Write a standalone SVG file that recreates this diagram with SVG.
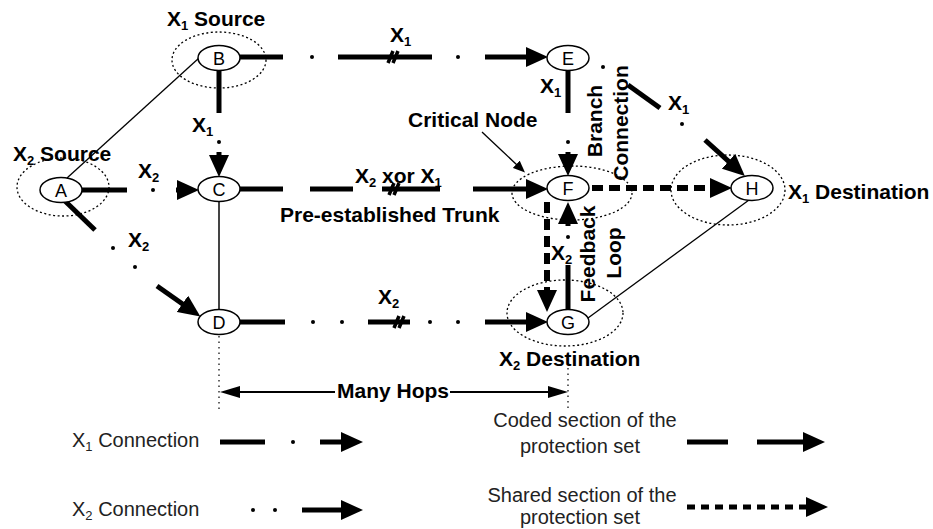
<svg xmlns="http://www.w3.org/2000/svg" width="933" height="529" viewBox="0 0 933 529">
<defs>
<style>
.n{fill:#fff;stroke:#000;stroke-width:1.5}
.grp{fill:none;stroke:#000;stroke-width:1.3;stroke-dasharray:2 2.5}
.nl{font-family:"Liberation Sans",Arial,sans-serif;font-size:18px;text-anchor:middle;fill:#000}
.lb{font-family:"Liberation Sans",Arial,sans-serif;font-size:21px;font-weight:bold;fill:#000}
.sub{font-size:13px}
.lg{font-family:"Liberation Sans",Arial,sans-serif;font-size:20px;fill:#222}
.th{stroke:#000;stroke-width:5;fill:none}
.sh{stroke:#000;stroke-width:6;fill:none;stroke-dasharray:11 6}
.shl{stroke:#000;stroke-width:5;fill:none;stroke-dasharray:8 6}
.thin{stroke:#000;stroke-width:1.3;fill:none}
.zz{stroke:#000;stroke-width:3.5;fill:none}
.vd{stroke:#000;stroke-width:1.2;stroke-dasharray:1.5 4;fill:none}
</style>
<marker id="ah" viewBox="0 0 22 20" markerWidth="22" markerHeight="20" markerUnits="userSpaceOnUse" refX="2" refY="10" orient="auto"><path d="M0,0L22,10L0,20Z"/></marker>
<marker id="sa" viewBox="0 0 12 10" markerWidth="12" markerHeight="10" markerUnits="userSpaceOnUse" refX="1" refY="5" orient="auto"><path d="M0,0L12,5L0,10Z"/></marker>
<marker id="ha" viewBox="0 0 20 12" markerWidth="20" markerHeight="12" markerUnits="userSpaceOnUse" refX="1" refY="6" orient="auto-start-reverse"><path d="M0,0L20,6L0,12Z"/></marker>
</defs>
<rect width="933" height="529" fill="#fff"/>

<g id="connectors">
<!-- thin links -->
<line class="thin" x1="67" y1="178" x2="199" y2="58"/>
<line x1="219" y1="202" x2="219" y2="309" stroke="#444" stroke-width="2"/>
<line class="thin" x1="588" y1="318" x2="749" y2="200"/>
<!-- B to E -->
<line class="th" x1="240" y1="57" x2="283" y2="57"/>
<circle cx="312" cy="57" r="2"/>
<line class="th" x1="338" y1="57" x2="432" y2="57"/>
<path class="zz" d="M388,63L393,51M393,63L398,51"/>
<circle cx="458" cy="57" r="2"/>
<line class="th" x1="485" y1="57" x2="528" y2="57" marker-end="url(#ah)"/>
<!-- B to C -->
<line class="th" x1="219" y1="70" x2="219" y2="113"/>
<circle cx="219" cy="142" r="2"/>
<line class="th" x1="219" y1="152" x2="219" y2="157" marker-end="url(#ah)"/>
<!-- A to C -->
<line class="th" x1="82" y1="190" x2="127" y2="190"/>
<circle cx="153" cy="190" r="2"/>
<line class="th" x1="176" y1="190" x2="179" y2="190" marker-end="url(#ah)"/>
<!-- A to D -->
<line class="th" x1="65" y1="201" x2="95" y2="230"/>
<circle cx="113" cy="248" r="2"/>
<circle cx="135" cy="267" r="2"/>
<line class="th" x1="157" y1="286" x2="184" y2="305" marker-end="url(#ah)"/>
<!-- C to F trunk -->
<line class="th" x1="240" y1="189" x2="283" y2="189"/>
<line class="th" x1="310" y1="189" x2="353" y2="189"/>
<line class="th" x1="382" y1="189" x2="440" y2="189"/>
<path class="zz" d="M389,195L394,183M394,195L399,183"/>
<line class="th" x1="473" y1="189" x2="528" y2="189" marker-end="url(#ah)"/>
<!-- E to F -->
<line class="th" x1="568" y1="71" x2="568" y2="113"/>
<circle cx="568" cy="142" r="2"/>
<line class="th" x1="568" y1="152" x2="568" y2="156" marker-end="url(#ah)"/>
<!-- E to H branch -->
<circle cx="603" cy="67" r="2"/>
<line class="th" x1="628" y1="85" x2="660" y2="108"/>
<circle cx="682" cy="124" r="2"/>
<line class="th" x1="705" y1="140" x2="730" y2="162.6" marker-end="url(#ah)"/>
<!-- F to H shared -->
<line class="sh" x1="592" y1="188" x2="712" y2="188" marker-end="url(#ah)"/>
<!-- F to G shared (feedback) -->
<line class="sh" x1="547" y1="202" x2="547" y2="292" stroke-dasharray="10 7" marker-end="url(#ah)"/>
<!-- G to F -->
<line class="th" x1="568" y1="309" x2="568" y2="265"/>
<circle cx="568" cy="237" r="2"/>
<line class="th" x1="568" y1="226" x2="568" y2="222" marker-end="url(#ah)"/>
<!-- D to G -->
<line class="th" x1="240" y1="322" x2="285" y2="322"/>
<circle cx="313" cy="322" r="2"/>
<circle cx="342" cy="322" r="2"/>
<line class="th" x1="368" y1="322" x2="410" y2="322"/>
<path class="zz" d="M394,328L399,316M399,328L404,316"/>
<circle cx="430" cy="322" r="2"/>
<circle cx="458" cy="322" r="2"/>
<line class="th" x1="485" y1="322" x2="528" y2="322" marker-end="url(#ah)"/>
<!-- critical node pointer -->
<line class="thin" x1="482" y1="132" x2="517" y2="165" marker-end="url(#sa)"/>
<!-- many hops -->
<line class="vd" x1="219" y1="336" x2="219" y2="410"/>
<line class="vd" x1="568" y1="368" x2="568" y2="410"/>
<line x1="239" y1="392" x2="335" y2="392" stroke="#000" stroke-width="2" marker-start="url(#ha)"/>
<line x1="450" y1="392" x2="549" y2="392" stroke="#000" stroke-width="2" marker-end="url(#ha)"/>
</g>

<g id="node-A"><ellipse class="grp" cx="63" cy="187" rx="46" ry="29"/><ellipse class="n" cx="61" cy="190" rx="21" ry="12.5"/><text class="nl" x="61" y="196.5">A</text></g>
<g id="node-B"><ellipse class="grp" cx="219" cy="60" rx="47" ry="28"/><ellipse class="n" cx="219" cy="58" rx="21" ry="12.5"/><text class="nl" x="219" y="64.5">B</text></g>
<g id="node-C"><ellipse class="n" cx="219" cy="189" rx="21" ry="12.5"/><text class="nl" x="219" y="195.5">C</text></g>
<g id="node-D"><ellipse class="n" cx="219" cy="322" rx="21" ry="12.5"/><text class="nl" x="219" y="328.5">D</text></g>
<g id="node-E"><ellipse class="n" cx="568" cy="58" rx="21" ry="12.5"/><text class="nl" x="568" y="64.5">E</text></g>
<g id="node-F"><ellipse class="grp" cx="572" cy="193" rx="60" ry="27"/><ellipse class="n" cx="568" cy="188" rx="21" ry="12.5"/><text class="nl" x="568" y="194.5">F</text></g>
<g id="node-G"><ellipse class="grp" cx="565" cy="313" rx="58" ry="33"/><ellipse class="n" cx="568" cy="322" rx="21" ry="12.5"/><text class="nl" x="568" y="328.5">G</text></g>
<g id="node-H"><ellipse class="grp" cx="728" cy="190" rx="57" ry="35"/><ellipse class="n" cx="752" cy="188" rx="21" ry="12.5"/><text class="nl" x="752" y="194.5">H</text></g>

<g id="labels">
<text class="lb" x="167" y="26">X<tspan class="sub" dy="4">1</tspan><tspan dy="-4"> Source</tspan></text>
<text class="lb" x="13" y="161">X<tspan class="sub" dy="4">2</tspan><tspan dy="-4"> Source</tspan></text>
<text class="lb" x="192" y="132">X<tspan class="sub" dy="4">1</tspan></text>
<text class="lb" x="138" y="178">X<tspan class="sub" dy="4">2</tspan></text>
<text class="lb" x="128" y="247">X<tspan class="sub" dy="4">2</tspan></text>
<text class="lb" x="390" y="42">X<tspan class="sub" dy="4">1</tspan></text>
<text class="lb" x="355" y="183">X<tspan class="sub" dy="4">2</tspan><tspan dy="-4"> xor X</tspan><tspan class="sub" dy="4">1</tspan></text>
<text class="lb" x="408" y="127">Critical Node</text>
<text class="lb" x="540" y="93">X<tspan class="sub" dy="4">1</tspan></text>
<text class="lb" x="668" y="110">X<tspan class="sub" dy="4">1</tspan></text>
<text class="lb" text-anchor="middle" transform="translate(602,121) rotate(-90)">Branch</text>
<text class="lb" text-anchor="middle" transform="translate(628,123) rotate(-90)">Connection</text>
<text class="lb" text-anchor="middle" transform="translate(595,254) rotate(-90)">Feedback</text>
<text class="lb" text-anchor="middle" transform="translate(621,253) rotate(-90)">Loop</text>
<text class="lb" x="280" y="222">Pre-established Trunk</text>
<text class="lb" x="788" y="199">X<tspan class="sub" dy="4">1</tspan><tspan dy="-4"> Destination</tspan></text>
<text class="lb" x="551" y="260">X<tspan class="sub" dy="4">2</tspan></text>
<text class="lb" x="378" y="304">X<tspan class="sub" dy="4">2</tspan></text>
<text class="lb" x="499" y="366">X<tspan class="sub" dy="4">2</tspan><tspan dy="-4"> Destination</tspan></text>
<text class="lb" x="337" y="398">Many Hops</text>
</g>

<g id="legend">
<text class="lg" x="72" y="447">X<tspan class="sub" dy="4">1</tspan><tspan dy="-4"> Connection</tspan></text>
<line class="th" x1="220" y1="442" x2="265" y2="442"/>
<circle cx="293" cy="442" r="2"/>
<line class="th" x1="320" y1="442" x2="343" y2="442" marker-end="url(#ah)"/>
<text class="lg" x="72" y="516">X<tspan class="sub" dy="4">2</tspan><tspan dy="-4"> Connection</tspan></text>
<circle cx="253" cy="510" r="2"/>
<circle cx="275" cy="510" r="2"/>
<line class="th" x1="302" y1="510" x2="343" y2="510" marker-end="url(#ah)"/>
<text class="lg" x="585" y="427" text-anchor="middle">Coded section of the</text>
<text class="lg" x="580" y="453" text-anchor="middle">protection set</text>
<line class="th" x1="687" y1="442" x2="728" y2="442"/>
<line class="th" x1="757" y1="442" x2="805" y2="442" marker-end="url(#ah)"/>
<text class="lg" x="582" y="502" text-anchor="middle">Shared section of the</text>
<text class="lg" x="580" y="524" text-anchor="middle">protection set</text>
<line class="shl" x1="687" y1="507" x2="808" y2="507" marker-end="url(#ah)"/>
</g>
</svg>
